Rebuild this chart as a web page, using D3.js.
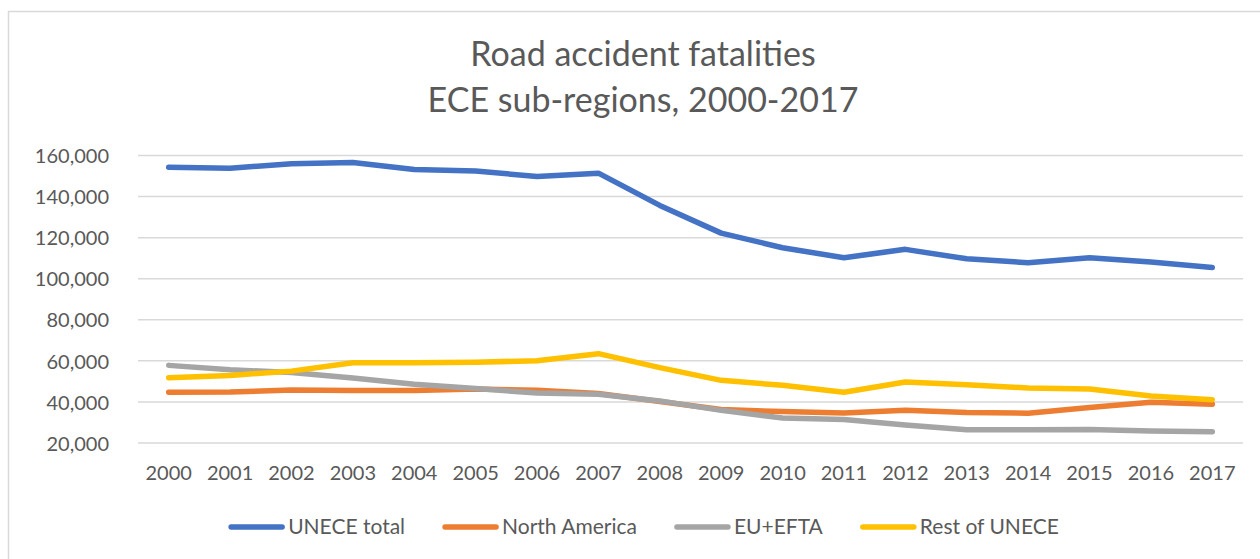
<!DOCTYPE html>
<html>
<head>
<meta charset="utf-8">
<script src="https://cdn.jsdelivr.net/npm/d3@7"></script>
<style>
  html, body { margin: 0; padding: 0; background: #fff; }
  svg { display: block; }
  text { font-family: Lato, "Open Sans", sans-serif; fill: #595959; }
</style>
</head>
<body>
<svg id="chart" width="1260" height="559"></svg>
<script>
const years = ["2000","2001","2002","2003","2004","2005","2006","2007","2008","2009","2010","2011","2012","2013","2014","2015","2016","2017"];
const uneceTotal   = [154300,153800,156000,156600,153200,152400,149800,151400,135700,122200,115100,110200,114300,109700,107800,110200,108100,105500];
const northAmerica = [44700,44800,45800,45600,45600,46300,45700,44100,40200,36300,35300,34600,35900,34800,34500,37300,39800,38900];
const euEfta       = [57800,55700,54300,51600,48600,46500,44300,43700,40500,35900,32200,31400,28800,26500,26500,26600,25800,25500];
const restOfUnece  = [51800,52900,55000,59100,59100,59300,60100,63500,56700,50500,48100,44700,49700,48400,46800,46300,42900,41100];
const seriesNames  = ["UNECE total","North America","EU+EFTA","Rest of UNECE"];
const seriesColors = ["#4472C4","#ED7D31","#A5A5A5","#FFC000"];
const yTicks = [20000,40000,60000,80000,100000,120000,140000,160000];
const titleLines = ["Road accident fatalities","ECE sub-regions, 2000-2017"];

const seriesValues = [uneceTotal, northAmerica, euEfta, restOfUnece];

const svg = d3.select("#chart");

// chart area border
svg.append("rect")
  .attr("x", 8.5).attr("y", 11.5)
  .attr("width", 1400).attr("height", 700)
  .attr("fill", "#fff")
  .attr("stroke", "#D9D9D9").attr("stroke-width", 1.5);

const plotLeft = 138, plotRight = 1243, plotTop = 155.5, plotBottom = 443;

const x = d3.scaleBand().domain(years).range([plotLeft, plotRight]);
const y = d3.scaleLinear().domain([20000, 160000]).range([plotBottom, plotTop]);

// title
svg.append("g").selectAll("text").data(titleLines).join("text")
  .attr("x", 643)
  .attr("y", (d, i) => 66 + i * 45.5)
  .attr("text-anchor", "middle")
  .style("font-size", "34px")
  .text(d => d);

// gridlines
svg.append("g").selectAll("line").data(yTicks).join("line")
  .attr("x1", plotLeft).attr("x2", plotRight)
  .attr("y1", d => y(d)).attr("y2", d => y(d))
  .attr("stroke", "#D9D9D9").attr("stroke-width", 1.5);

// y axis labels
const fmt = d3.format(",");
const yAxis = d3.axisLeft(y).tickValues(yTicks).tickFormat(fmt).tickSize(0).tickPadding(0);
const gy = svg.append("g").attr("transform", `translate(109,0)`).call(yAxis);
gy.select(".domain").remove();
gy.selectAll("text")
  .attr("dy", "0.36em")
  .style("font-family", "Lato, sans-serif")
  .style("font-size", "20px")
  .attr("fill", "#595959");

// x axis labels
const xAxis = d3.axisBottom(x).tickSize(0).tickPadding(0);
const gx = svg.append("g").attr("transform", `translate(0,466)`).call(xAxis);
gx.select(".domain").remove();
gx.selectAll("text")
  .attr("dy", "0.71em")
  .style("font-family", "Lato, sans-serif")
  .style("font-size", "20px")
  .attr("fill", "#595959");

// lines
const line = d3.line()
  .x((d, i) => x(years[i]) + x.bandwidth() / 2)
  .y(d => y(d));

svg.append("g").selectAll("path").data(seriesValues).join("path")
  .attr("d", d => line(d))
  .attr("fill", "none")
  .attr("stroke", (d, i) => seriesColors[i])
  .attr("stroke-width", 5.5)
  .attr("stroke-linejoin", "round")
  .attr("stroke-linecap", "round");

// legend
const legend = svg.append("g");
const items = legend.selectAll("g").data(seriesNames).join("g");
items.append("line")
  .attr("x1", 3).attr("x2", 54).attr("y1", 0).attr("y2", 0)
  .attr("stroke", (d, i) => seriesColors[i])
  .attr("stroke-width", 5.5)
  .attr("stroke-linecap", "round");
items.append("text")
  .attr("x", 60).attr("y", 0).attr("dy", "0.35em")
  .style("font-size", "21px")
  .text(d => d);
let widths = [];
items.each(function() {
  widths.push(60 + d3.select(this).select("text").node().getComputedTextLength());
});
const gap = 37;
const total = d3.sum(widths) + gap * (widths.length - 1);
let cx = 643.5 - total / 2;
items.each(function(d, i) {
  d3.select(this).attr("transform", `translate(${cx},527)`);
  cx += widths[i] + gap;
});
</script>
</body>
</html>
